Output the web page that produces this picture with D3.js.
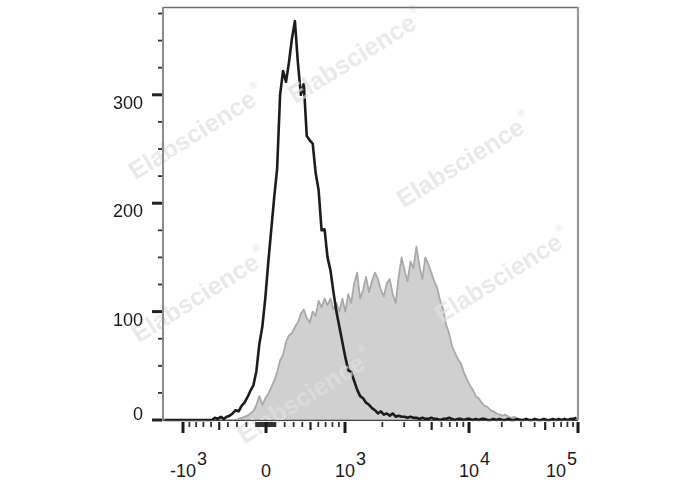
<!DOCTYPE html>
<html><head><meta charset="utf-8">
<script src="https://cdn.jsdelivr.net/npm/d3@7"></script>
<style>html,body{margin:0;padding:0;background:#fff;} svg{display:block;}</style>
</head><body>
<svg id="chart" width="688" height="490"></svg>
<script>
// ---- data: histogram counts per display channel (140 channels across the axis) ----
const blackCounts = [
  0,0,0,0,0,0,0,0,0,0, 0,0,0,0,0,0,0,2,1,3,
  1,3,4,6,9,8,13,16,21,27, 32,45,70,86,112,145,175,205,232,300,
  322,312,330,352,368,330,300,310,262,258, 255,228,212,175,176,150,138,118,100,86,
  72,58,46,44,36,28,22,20,16,14, 11,9,6,8,5,6,4,6,3,4,
  3,3,2,3,2,2,1,2,1,1, 2,1,1,0,1,1,2,1,0,1,
  1,0,1,1,0,1,0,1,1,0, 0,1,0,1,0,0,1,0,0,1,
  0,0,1,0,0,1,0,0,1,0, 0,1,0,1,0,1,0,1,1,2
];
const grayCounts = [
  0,0,0,0,0,0,0,0,0,0, 0,0,0,0,0,0,0,0,0,0,
  0,0,0,0,0,1,2,3,4,6, 8,14,22,14,20,24,30,36,44,55,
  60,72,78,80,86,90,98,102,94,90, 100,96,110,104,112,106,112,102,108,100,
  112,100,116,108,126,136,112,120,132,118, 128,136,130,120,114,126,130,116,108,132,
  150,138,128,146,140,160,142,130,150,144, 136,128,122,110,102,88,80,68,62,56,
  52,44,38,32,28,22,20,16,13,12, 9,8,6,5,4,5,3,2,3,1,
  1,0,0,0,0,0,0,0,0,0, 0,0,0,0,0,0,0,0,0,0
];
const yMajorTicks = [0,100,200,300];
const yMinorTicks = [25,50,75,125,150,175,225,250,275,325,350,375];
const yTickLabels = ["0","100","200","300"];
const xMajorTicks = [-1000,0,1000,10000,100000];
const xMediumTicks = [-500,500,5000,50000];
const xMinorTicks = [-900,-800,-700,-600,-400,-300,-200,-100,
  -90,-80,-70,-60,-50,-40,-30,-20,-10,10,20,30,40,50,60,70,80,90,
  100,200,300,400,600,700,800,900,
  2000,3000,4000,6000,7000,8000,9000,
  20000,30000,40000,60000,70000,80000,90000];
const xLabelValues = [-1000,0,1000,10000,100000];
const xLabelBase = ["-10","0","10","10","10"];
const xLabelExp = ["3","","3","4","5"];
const watermarkText = "Elabscience";

// ---- layout ----
const L = 163, R = 578, T = 7, B = 420;
const FONT = "'Liberation Sans', Arial, Helvetica, sans-serif";
const svg = d3.select("#chart");

const y = d3.scaleLinear().domain([0, 381]).range([B, T]);
const xc = d3.scaleLinear().domain([0, blackCounts.length]).range([L, R]);
// biexponential-like display axis: asinh region around zero, log above 10^3
const C = 800;
const xLin = d3.scaleLinear().domain([Math.asinh(-1000 / C), 0, Math.asinh(1000 / C)]).range([183, 266, 345]);
const xLog = d3.scaleLog().domain([1e3, 1e4, 1e5]).range([345, 469, 578]);
const xPos = v => v >= 1000 ? xLog(v) : xLin(Math.asinh(v / C));

svg.append("defs").append("clipPath").attr("id", "plotclip")
  .append("rect").attr("x", L).attr("y", T).attr("width", R - L).attr("height", B - T + 2);

const plot = svg.append("g").attr("clip-path", "url(#plotclip)");

// gray filled histogram
const area = d3.area().x((d, i) => xc(i + 0.5)).y0(y(0)).y1(d => y(d));
plot.append("path").datum(grayCounts).attr("d", area)
  .attr("fill", "#d0d0d0").attr("stroke", "#a9a9a9").attr("stroke-width", 1.8)
  .attr("stroke-linejoin", "round");

// watermarks
const wmPos = [[356, 56], [196, 132], [464, 160], [199, 295], [502, 275], [305, 396]];
const wm = svg.append("g").attr("opacity", 0.7);
wmPos.forEach(p => {
  const t = wm.append("text")
    .attr("transform", `translate(${p[0]},${p[1]}) rotate(-32)`)
    .attr("text-anchor", "middle").attr("dominant-baseline", "central")
    .attr("font-family", FONT).attr("font-weight", "bold").attr("font-size", 25)
    .attr("fill", "#e0e0e0");
  t.append("tspan").text(watermarkText);
  t.append("tspan").attr("font-size", 10).attr("dy", -10).attr("dx", 2).text("\u00AE");
});

// black histogram line
const line = d3.line().x((d, i) => xc(i + 0.5)).y(d => y(d));
plot.append("path").datum(blackCounts).attr("d", line)
  .attr("fill", "none").attr("stroke", "#1c1c1c").attr("stroke-width", 2.6)
  .attr("stroke-linejoin", "round");

// frame
const frame = svg.append("g");
frame.append("line").attr("x1", L).attr("x2", R).attr("y1", T + 0.5).attr("y2", T + 0.5)
  .attr("stroke", "#6e6e6e").attr("stroke-width", 1.3);
frame.append("line").attr("x1", R).attr("x2", R).attr("y1", T).attr("y2", B)
  .attr("stroke", "#999").attr("stroke-width", 2.2);
frame.append("line").attr("x1", L).attr("x2", L).attr("y1", T).attr("y2", B + 1)
  .attr("stroke", "#8a8a8a").attr("stroke-width", 2);
frame.append("line").attr("x1", L).attr("x2", R).attr("y1", B + 0.5).attr("y2", B + 0.5)
  .attr("stroke", "#444").attr("stroke-width", 1);

// y ticks
const yt = svg.append("g");
yt.selectAll(".ymaj").data(yMajorTicks).join("line")
  .attr("x1", 152).attr("x2", L - 1).attr("y1", d => y(d)).attr("y2", d => y(d))
  .attr("stroke", "#222").attr("stroke-width", 3);
yt.selectAll(".ymin").data(yMinorTicks).join("line")
  .attr("x1", 158).attr("x2", L - 1).attr("y1", d => y(d)).attr("y2", d => y(d))
  .attr("stroke", "#333").attr("stroke-width", 1.8);
yt.selectAll(".ylab").data(yMajorTicks).join("text")
  .attr("x", 143).attr("y", d => d === 0 ? y(d) : y(d) + 14)
  .attr("text-anchor", "end").attr("font-family", FONT).attr("font-size", 18)
  .attr("fill", "#1a1a1a").text((d, i) => yTickLabels[i]);

// x ticks
const xt = svg.append("g");
const tickTop = B + 2;
xt.selectAll(".xmin").data(xMinorTicks).join("line")
  .attr("x1", d => xPos(d)).attr("x2", d => xPos(d)).attr("y1", tickTop).attr("y2", B + 7)
  .attr("stroke", "#333").attr("stroke-width", 1.8);
xt.selectAll(".xmed").data(xMediumTicks).join("line")
  .attr("x1", d => xPos(d)).attr("x2", d => xPos(d)).attr("y1", tickTop).attr("y2", B + 10)
  .attr("stroke", "#222").attr("stroke-width", 2.2);
xt.selectAll(".xmaj").data(xMajorTicks).join("line")
  .attr("x1", d => xPos(d)).attr("x2", d => xPos(d)).attr("y1", tickTop).attr("y2", B + 13)
  .attr("stroke", "#1a1a1a").attr("stroke-width", 3);

// x labels (base with superscript exponent)
xLabelValues.forEach((v, i) => {
  const g = svg.append("g");
  const base = g.append("text").attr("x", 0).attr("y", 477)
    .attr("text-anchor", "middle").attr("font-family", FONT).attr("font-size", 18)
    .attr("fill", "#1a1a1a").text(xLabelBase[i]);
  const bw = base.node().getComputedTextLength();
  let right = bw / 2;
  if (xLabelExp[i]) {
    const sup = g.append("text").attr("x", bw / 2 + 1).attr("y", 465)
      .attr("font-family", FONT).attr("font-size", 18).attr("fill", "#1a1a1a")
      .text(xLabelExp[i]);
    right = bw / 2 + 1 + sup.node().getComputedTextLength();
  }
  let cx = xPos(v);
  if (cx + right > R - 1) cx = R - 1 - right;
  g.attr("transform", `translate(${cx},0)`);
});
</script>
</body></html>
